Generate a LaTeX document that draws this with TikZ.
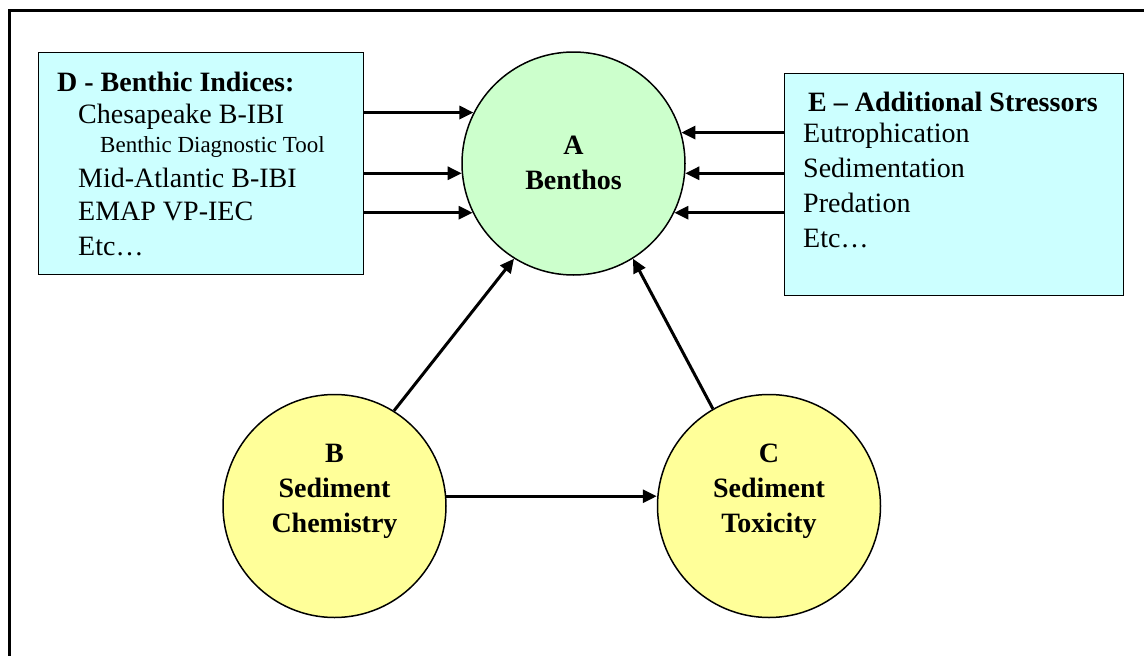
\documentclass[tikz,border=0pt]{standalone}
\usepackage{fontspec}
\setmainfont{Liberation Serif}
\usetikzlibrary{arrows.meta}
\definecolor{boxcyan}{HTML}{CCFFFF}
\definecolor{circgreen}{HTML}{CCFFCC}
\definecolor{circyellow}{HTML}{FFFF99}
\begin{document}
\begin{tikzpicture}[x=1pt,y=-1pt,
  txt/.style={font=\fontsize{28}{35}\selectfont, anchor=base west, inner sep=0pt},
  smalltxt/.style={font=\fontsize{23}{28}\selectfont, anchor=base west, inner sep=0pt},
  btxt/.style={font=\fontsize{28}{35}\selectfont\bfseries, anchor=base west, inner sep=0pt},
  ctxt/.style={font=\fontsize{28}{35}\selectfont\bfseries, align=center, inner sep=0pt},
  infobox/.style={draw=black, line width=1.2pt, fill=boxcyan, rectangle, inner sep=0pt, anchor=north west},
  bubble/.style={draw=black, line width=1.5pt, circle, inner sep=0pt, minimum size=223pt},
  conn/.style={line width=3pt, -{Triangle[length=14pt,width=13pt]}}]
\useasboundingbox (0,0) rectangle (1144,656);
\fill[white] (0,0) rectangle (1144,656);
\draw[line width=3pt] (1144,10) -- (9,10) -- (9,656);

% boxes
\node[infobox, minimum width=325pt, minimum height=222pt] (D) at (38,52) {};
\node[infobox, minimum width=339pt, minimum height=222pt] (E) at (784,73) {};

% D text
\node[btxt] (d0) at (57,91) {D - Benthic Indices:};
\node[txt] (d1) at (78,123) {Chesapeake B-IBI};
\node[smalltxt] (d2) at (100,152) {Benthic Diagnostic Tool};
\node[txt] (d3) at (78,187) {Mid-Atlantic B-IBI};
\node[txt] (d4) at (78,220) {EMAP VP-IEC};
\node[txt] (d5) at (78,255) {Etc\ldots};

% E text
\node[btxt] (e0) at (808,111) {E – Additional Stressors};
\node[txt] (e1) at (803,142) {Eutrophication};
\node[txt] (e2) at (803,177) {Sedimentation};
\node[txt] (e3) at (803,212) {Predation};
\node[txt] (e4) at (803,247) {Etc\ldots};

% circles
\node[bubble, fill=circgreen] (A) at (573.5,163.5) {};
\node[bubble, fill=circyellow] (B) at (334.5,506) {};
\node[bubble, fill=circyellow] (C) at (769,506) {};
\node[ctxt] (At) at (573.5,162.5) {A\\Benthos};
\node[ctxt] (Bt) at (334.5,491) {B\\Sediment\\Chemistry};
\node[ctxt] (Ct) at (769,491) {C\\Sediment\\Toxicity};

% connectors D -> A
\draw[conn] (D.east |- A.153) -- (A.153);
\draw[conn] (D.east |- A.185) -- (A.185);
\draw[conn] (D.east |- A.206) -- (A.206);
% connectors E -> A
\draw[conn] (E.west |- A.16) -- (A.16);
\draw[conn] (E.west |- A.-5) -- (A.-5);
\draw[conn] (E.west |- A.-26.4) -- (A.-26.4);
% triangle
\draw[conn] (B.58.6) -- (A.238.2);
\draw[conn] (C.120.3) -- (A.302.6);
\draw[conn] (B.5.6) -- (B.5.6 -| C.west);
\end{tikzpicture}
\end{document}
